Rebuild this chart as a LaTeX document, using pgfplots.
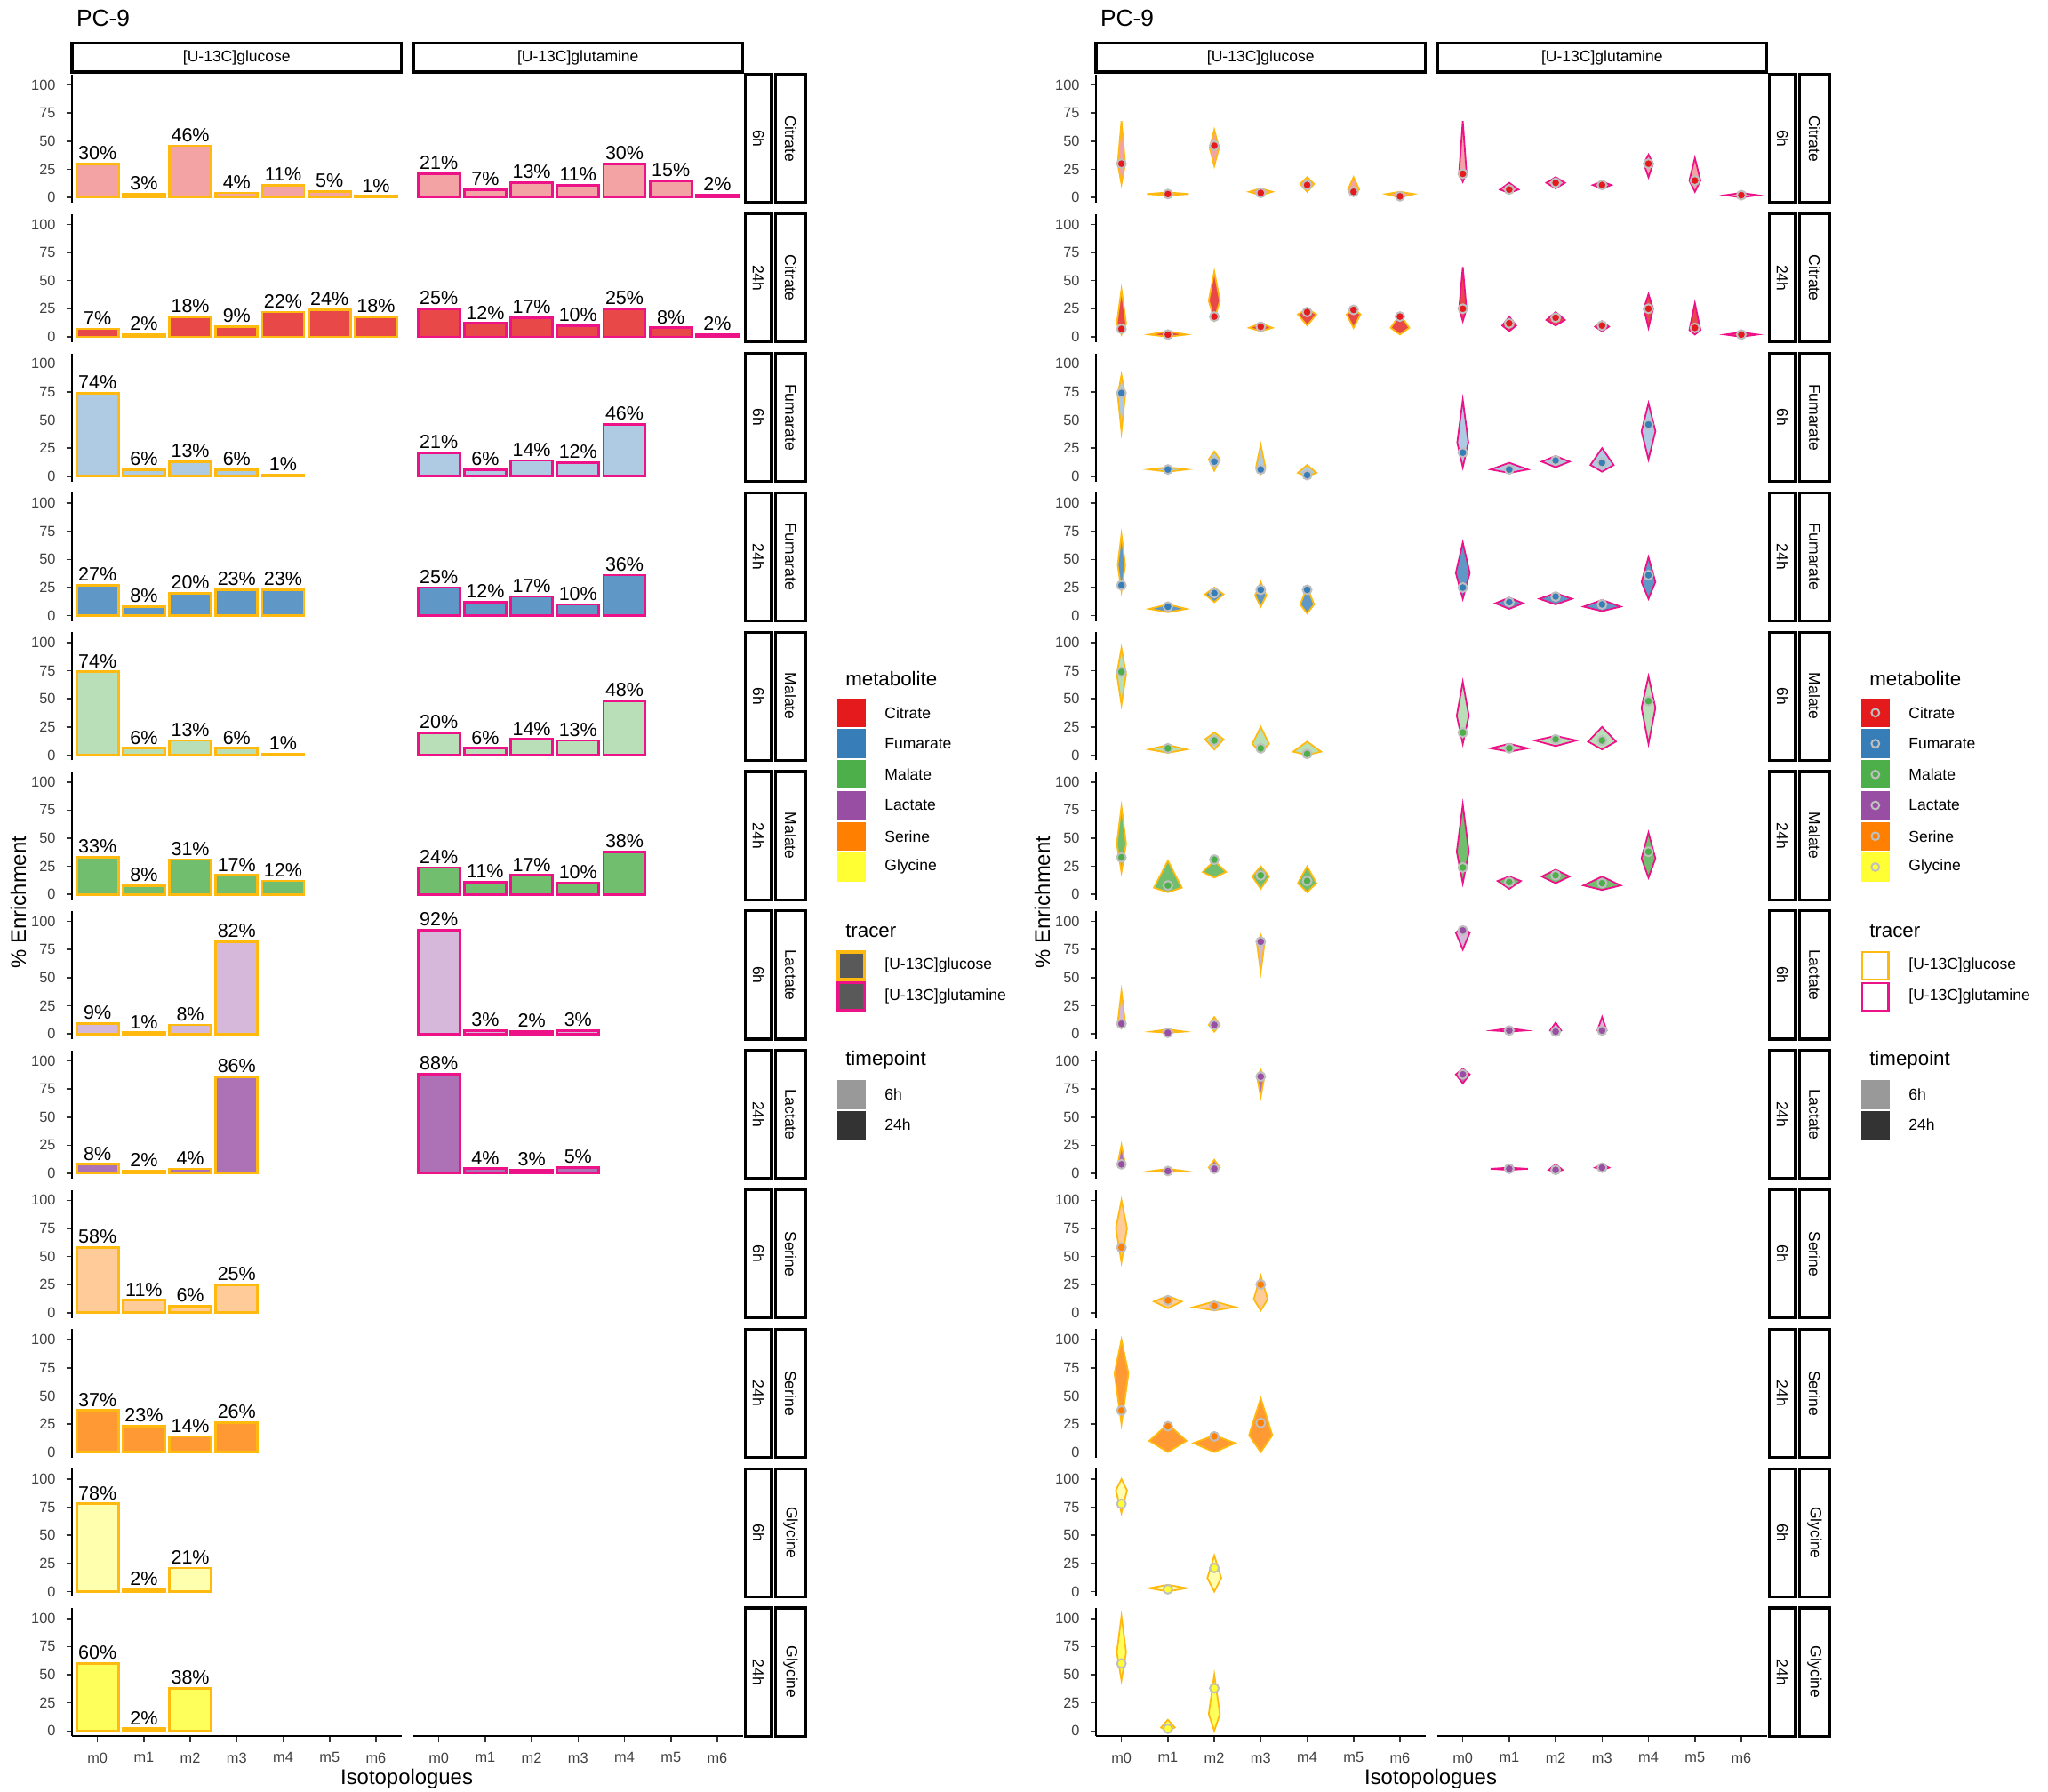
\documentclass[border=0pt]{standalone}
\usepackage{pgfplots}
\pgfplotsset{compat=1.18}
\usepackage{fontspec}
\setmainfont{Liberation Sans}
\definecolor{cCit}{HTML}{E41A1C}
\definecolor{cFum}{HTML}{377EB8}
\definecolor{cMal}{HTML}{4DAF4A}
\definecolor{cLac}{HTML}{984EA3}
\definecolor{cSer}{HTML}{FF7F00}
\definecolor{cGly}{HTML}{FFFF33}
\definecolor{cGlc}{HTML}{FFB90F}
\definecolor{cGln}{HTML}{EE1289}
\newcommand\lbl{\fontsize{5.4}{6}\selectfont}
\newcommand\tck{\fontsize{4.1}{5}\selectfont}
\pgfplotsset{
 pan/.style={anchor=north west, scale only axis, width=93.05pt, height=36.18pt,
   xmin=-0.55, xmax=6.55, ymin=-4.7, ymax=109.3, clip=false,
   xtick={0,...,6}, xticklabels={m0,m1,m2,m3,m4,m5,m6}, ytick={0,25,50,75,100},
   tick label style={font=\tck, text=black!75},
   /pgf/number format/assume math mode=true,
   tick align=outside, major tick length=1.6pt, tick style={black!80, line width=0.4pt},
   axis line style={line width=0.5pt},
   xticklabel style={yshift=0.5pt}, yticklabel style={xshift=0.5pt}},
 inner/.style={hide x axis, hide y axis},
 leftc/.style={hide x axis, axis y line*=left},
 botc/.style={hide y axis, axis x line*=bottom},
 corner/.style={axis x line*=bottom, axis y line*=left},
}
\newcommand\B[3]{\addplot[ybar, bar width=0.9, fill=#1, draw=#2, line width=0.7pt,
  nodes near coords={\pgfmathprintnumber{\pgfplotspointmeta}\%},
  every node near coord/.style={font=\lbl, text=black, inner sep=0.8pt}] coordinates {#3};}
\newcommand\V[7]{\pgfmathsetmacro\xa{#3+#7}\pgfmathsetmacro\xb{#3-#7}%
  \addplot[fill=#1, draw=#2, line width=0.45pt] coordinates {(#3,#4)(\xa,#5)(#3,#6)(\xb,#5)} --cycle;}
\newcommand\Pt[2]{\addplot[only marks, mark=*, mark size=1.25pt, mark options={fill=#1, draw=black!25, line width=0.5pt}] coordinates {#2};}
\newcommand\Ax[4]{\begin{axis}[pan, at={({#1*0.36923pt},{-(57+106.6*#2)*0.36923pt})}, #3] #4 \end{axis}}
\begin{document}
\begin{tikzpicture}[x=0.36923pt, y=-0.36923pt]
\useasboundingbox (0,0) rectangle (1566,1370.25);
% ================= LEFT: bars =================
\Ax{55}{0}{leftc}{\B{cCit!40}{cGlc}{(0,30)(1,3)(2,46)(3,4)(4,11)(5,5)(6,1)}}
\Ax{316}{0}{inner}{\B{cCit!40}{cGln}{(0,21)(1,7)(2,13)(3,11)(4,30)(5,15)(6,2)}}
\Ax{55}{1}{leftc}{\B{cCit!80}{cGlc}{(0,7)(1,2)(2,18)(3,9)(4,22)(5,24)(6,18)}}
\Ax{316}{1}{inner}{\B{cCit!80}{cGln}{(0,25)(1,12)(2,17)(3,10)(4,25)(5,8)(6,2)}}
\Ax{55}{2}{leftc}{\B{cFum!40}{cGlc}{(0,74)(1,6)(2,13)(3,6)(4,1)}}
\Ax{316}{2}{inner}{\B{cFum!40}{cGln}{(0,21)(1,6)(2,14)(3,12)(4,46)}}
\Ax{55}{3}{leftc}{\B{cFum!80}{cGlc}{(0,27)(1,8)(2,20)(3,23)(4,23)}}
\Ax{316}{3}{inner}{\B{cFum!80}{cGln}{(0,25)(1,12)(2,17)(3,10)(4,36)}}
\Ax{55}{4}{leftc}{\B{cMal!40}{cGlc}{(0,74)(1,6)(2,13)(3,6)(4,1)}}
\Ax{316}{4}{inner}{\B{cMal!40}{cGln}{(0,20)(1,6)(2,14)(3,13)(4,48)}}
\Ax{55}{5}{leftc}{\B{cMal!80}{cGlc}{(0,33)(1,8)(2,31)(3,17)(4,12)}}
\Ax{316}{5}{inner}{\B{cMal!80}{cGln}{(0,24)(1,11)(2,17)(3,10)(4,38)}}
\Ax{55}{6}{leftc}{\B{cLac!40}{cGlc}{(0,9)(1,1)(2,8)(3,82)}}
\Ax{316}{6}{inner}{\B{cLac!40}{cGln}{(0,92)(1,3)(2,2)(3,3)}}
\Ax{55}{7}{leftc}{\B{cLac!80}{cGlc}{(0,8)(1,2)(2,4)(3,86)}}
\Ax{316}{7}{inner}{\B{cLac!80}{cGln}{(0,88)(1,4)(2,3)(3,5)}}
\Ax{55}{8}{leftc}{\B{cSer!40}{cGlc}{(0,58)(1,11)(2,6)(3,25)}}
\Ax{55}{9}{leftc}{\B{cSer!80}{cGlc}{(0,37)(1,23)(2,14)(3,26)}}
\Ax{55}{10}{leftc}{\B{cGly!40}{cGlc}{(0,78)(1,2)(2,21)}}
\Ax{55}{11}{corner}{\B{cGly!80}{cGlc}{(0,60)(1,2)(2,38)}}
\Ax{316}{11}{botc}{\addplot[draw=none] coordinates {(0,0)};}
% ================= RIGHT: violins =================
\Ax{838}{0}{leftc}{
 \V{cCit!40}{cGlc}{0}{12}{30}{68}{0.08}\V{cCit!40}{cGlc}{1}{2}{3}{4.5}{0.45}\V{cCit!40}{cGlc}{2}{28}{44}{60}{0.1}
 \V{cCit!40}{cGlc}{3}{2}{5}{8}{0.25}\V{cCit!40}{cGlc}{4}{5}{12}{18}{0.15}\V{cCit!40}{cGlc}{5}{3}{7}{18}{0.12}\V{cCit!40}{cGlc}{6}{0}{3}{5}{0.3}
 \Pt{cCit}{(0,30)(1,3)(2,46)(3,4)(4,11)(5,5)(6,1)}}
\Ax{1099}{0}{inner}{
 \V{cCit!40}{cGln}{0}{14}{22}{68}{0.08}\V{cCit!40}{cGln}{1}{4}{7}{13}{0.2}\V{cCit!40}{cGln}{2}{8}{13}{18}{0.2}
 \V{cCit!40}{cGln}{3}{8}{11}{14}{0.2}\V{cCit!40}{cGln}{4}{18}{30}{38}{0.1}\V{cCit!40}{cGln}{5}{5}{15}{35}{0.12}\V{cCit!40}{cGln}{6}{0}{2}{4}{0.35}
 \Pt{cCit}{(0,21)(1,7)(2,13)(3,11)(4,30)(5,15)(6,2)}}
\Ax{838}{1}{leftc}{
 \V{cCit!80}{cGlc}{0}{2}{12}{42}{0.1}\V{cCit!80}{cGlc}{1}{0}{2}{5}{0.4}\V{cCit!80}{cGlc}{2}{15}{32}{58}{0.12}
 \V{cCit!80}{cGlc}{3}{5}{8}{12}{0.25}\V{cCit!80}{cGlc}{4}{10}{20}{25}{0.2}\V{cCit!80}{cGlc}{5}{8}{20}{25}{0.15}\V{cCit!80}{cGlc}{6}{2}{8}{20}{0.2}
 \Pt{cCit}{(0,7)(1,2)(2,18)(3,9)(4,22)(5,24)(6,18)}}
\Ax{1099}{1}{inner}{
 \V{cCit!80}{cGln}{0}{14}{25}{62}{0.08}\V{cCit!80}{cGln}{1}{5}{10}{18}{0.15}\V{cCit!80}{cGln}{2}{10}{15}{22}{0.2}
 \V{cCit!80}{cGln}{3}{5}{9}{14}{0.15}\V{cCit!80}{cGln}{4}{8}{25}{38}{0.1}\V{cCit!80}{cGln}{5}{2}{6}{30}{0.12}\V{cCit!80}{cGln}{6}{0}{2}{4}{0.35}
 \Pt{cCit}{(0,25)(1,12)(2,17)(3,10)(4,25)(5,8)(6,2)}}
\Ax{838}{2}{leftc}{
 \V{cFum!40}{cGlc}{0}{40}{72}{90}{0.08}\V{cFum!40}{cGlc}{1}{4}{6}{8}{0.4}\V{cFum!40}{cGlc}{2}{5}{15}{22}{0.12}
 \V{cFum!40}{cGlc}{3}{2}{8}{28}{0.1}\V{cFum!40}{cGlc}{4}{0}{3}{10}{0.2}
 \Pt{cFum}{(0,74)(1,6)(2,13)(3,6)(4,1)}}
\Ax{1099}{2}{inner}{
 \V{cFum!40}{cGln}{0}{8}{30}{68}{0.12}\V{cFum!40}{cGln}{1}{3}{6}{12}{0.4}\V{cFum!40}{cGln}{2}{8}{13}{18}{0.3}
 \V{cFum!40}{cGln}{3}{4}{10}{25}{0.25}\V{cFum!40}{cGln}{4}{15}{40}{65}{0.15}
 \Pt{cFum}{(0,21)(1,6)(2,14)(3,12)(4,46)}}
\Ax{838}{3}{leftc}{
 \V{cFum!80}{cGlc}{0}{22}{45}{72}{0.08}\V{cFum!80}{cGlc}{1}{3}{6}{10}{0.4}\V{cFum!80}{cGlc}{2}{12}{19}{25}{0.2}
 \V{cFum!80}{cGlc}{3}{8}{18}{30}{0.12}\V{cFum!80}{cGlc}{4}{2}{10}{25}{0.15}
 \Pt{cFum}{(0,27)(1,8)(2,20)(3,23)(4,23)}}
\Ax{1099}{3}{inner}{
 \V{cFum!80}{cGln}{0}{15}{38}{65}{0.15}\V{cFum!80}{cGln}{1}{6}{11}{16}{0.3}\V{cFum!80}{cGln}{2}{10}{15}{20}{0.35}
 \V{cFum!80}{cGln}{3}{4}{8}{14}{0.4}\V{cFum!80}{cGln}{4}{15}{30}{52}{0.15}
 \Pt{cFum}{(0,25)(1,12)(2,17)(3,10)(4,36)}}
\Ax{838}{4}{leftc}{
 \V{cMal!40}{cGlc}{0}{45}{72}{95}{0.1}\V{cMal!40}{cGlc}{1}{2}{5}{9}{0.4}\V{cMal!40}{cGlc}{2}{5}{14}{20}{0.2}
 \V{cMal!40}{cGlc}{3}{2}{10}{25}{0.18}\V{cMal!40}{cGlc}{4}{0}{3}{12}{0.3}
 \Pt{cMal}{(0,74)(1,6)(2,13)(3,6)(4,1)}}
\Ax{1099}{4}{inner}{
 \V{cMal!40}{cGln}{0}{10}{35}{65}{0.13}\V{cMal!40}{cGln}{1}{3}{6}{10}{0.4}\V{cMal!40}{cGln}{2}{8}{13}{17}{0.45}
 \V{cMal!40}{cGln}{3}{5}{12}{25}{0.3}\V{cMal!40}{cGln}{4}{10}{42}{70}{0.15}
 \Pt{cMal}{(0,20)(1,6)(2,14)(3,13)(4,48)}}
\Ax{838}{5}{leftc}{
 \V{cMal!80}{cGlc}{0}{20}{45}{78}{0.1}\V{cMal!80}{cGlc}{1}{2}{6}{30}{0.3}\V{cMal!80}{cGlc}{2}{15}{20}{30}{0.25}
 \V{cMal!80}{cGlc}{3}{5}{16}{25}{0.18}\V{cMal!80}{cGlc}{4}{2}{10}{25}{0.2}
 \Pt{cMal}{(0,33)(1,8)(2,31)(3,17)(4,12)}}
\Ax{1099}{5}{inner}{
 \V{cMal!80}{cGln}{0}{10}{38}{80}{0.13}\V{cMal!80}{cGln}{1}{5}{12}{16}{0.25}\V{cMal!80}{cGln}{2}{10}{16}{22}{0.3}
 \V{cMal!80}{cGln}{3}{4}{8}{16}{0.4}\V{cMal!80}{cGln}{4}{15}{32}{55}{0.15}
 \Pt{cMal}{(0,24)(1,11)(2,17)(3,10)(4,38)}}
\Ax{838}{6}{leftc}{
 \V{cLac!40}{cGlc}{0}{5}{10}{38}{0.08}\V{cLac!40}{cGlc}{1}{1}{2}{4}{0.35}\V{cLac!40}{cGlc}{2}{2}{8}{15}{0.12}
 \V{cLac!40}{cGlc}{3}{55}{80}{88}{0.08}
 \Pt{cLac}{(0,9)(1,1)(2,8)(3,82)}}
\Ax{1099}{6}{inner}{
 \V{cLac!40}{cGln}{0}{75}{90}{95}{0.15}\V{cLac!40}{cGln}{1}{2}{3}{5}{0.35}\V{cLac!40}{cGln}{2}{0}{3}{10}{0.12}
 \V{cLac!40}{cGln}{3}{0}{3}{15}{0.1}
 \Pt{cLac}{(0,92)(1,3)(2,2)(3,3)}}
\Ax{838}{7}{leftc}{
 \V{cLac!80}{cGlc}{0}{5}{8}{25}{0.08}\V{cLac!80}{cGlc}{1}{1}{2}{4}{0.35}\V{cLac!80}{cGlc}{2}{2}{5}{12}{0.12}
 \V{cLac!80}{cGlc}{3}{68}{86}{92}{0.08}
 \Pt{cLac}{(0,8)(1,2)(2,4)(3,86)}}
\Ax{1099}{7}{inner}{
 \V{cLac!80}{cGln}{0}{80}{88}{93}{0.15}\V{cLac!80}{cGln}{1}{3}{4}{5}{0.4}\V{cLac!80}{cGln}{2}{1}{3}{8}{0.15}
 \V{cLac!80}{cGln}{3}{3}{5}{8}{0.15}
 \Pt{cLac}{(0,88)(1,4)(2,3)(3,5)}}
\Ax{838}{8}{leftc}{
 \V{cSer!40}{cGlc}{0}{45}{75}{100}{0.12}\V{cSer!40}{cGlc}{1}{4}{10}{15}{0.3}\V{cSer!40}{cGlc}{2}{2}{5}{10}{0.45}
 \V{cSer!40}{cGlc}{3}{2}{12}{33}{0.15}
 \Pt{cSer}{(0,58)(1,11)(2,6)(3,25)}}
\Ax{838}{9}{leftc}{
 \V{cSer!80}{cGlc}{0}{25}{70}{100}{0.15}\V{cSer!80}{cGlc}{1}{0}{10}{25}{0.4}\V{cSer!80}{cGlc}{2}{0}{8}{15}{0.45}
 \V{cSer!80}{cGlc}{3}{0}{15}{48}{0.25}
 \Pt{cSer}{(0,37)(1,23)(2,14)(3,26)}}
\Ax{838}{10}{leftc}{
 \V{cGly!40}{cGlc}{0}{70}{90}{100}{0.12}\V{cGly!40}{cGlc}{1}{0}{3}{6}{0.4}\V{cGly!40}{cGlc}{2}{0}{12}{32}{0.15}
 \Pt{cGly}{(0,78)(1,2)(2,21)}}
\Ax{838}{11}{corner}{
 \V{cGly!80}{cGlc}{0}{45}{70}{102}{0.1}\V{cGly!80}{cGlc}{1}{0}{3}{10}{0.15}\V{cGly!80}{cGlc}{2}{0}{15}{50}{0.12}
 \Pt{cGly}{(0,60)(1,2)(2,38)}}
\Ax{1099}{11}{botc}{\addplot[draw=none] coordinates {(0,0)};}
% ================= strips, titles, legends =================
\foreach \dx in {0,783}{
 \begin{scope}[xshift=\dx*0.36923pt]
 \node[font=\fontsize{6.6}{7}\selectfont, anchor=west] at (49,14) {PC-9};
 \draw[line width=0.8pt, fill=white] (55,33) rectangle (307,55);
 \node[font=\fontsize{4.4}{5}\selectfont] at (181,44) {[U-13C]glucose};
 \draw[line width=0.8pt, fill=white] (316,33) rectangle (568,55);
 \node[font=\fontsize{4.4}{5}\selectfont] at (442,44) {[U-13C]glutamine};
 \foreach \i/\t/\m in {0/6h/Citrate,1/24h/Citrate,2/6h/Fumarate,3/24h/Fumarate,4/6h/Malate,5/24h/Malate,6/6h/Lactate,7/24h/Lactate,8/6h/Serine,9/24h/Serine,10/6h/Glycine,11/24h/Glycine}{
   \pgfmathsetmacro\yt{57+106.6*\i}
   \draw[line width=0.8pt, fill=white] (570,\yt) rectangle (590,\yt+98);
   \draw[line width=0.8pt, fill=white] (593,\yt) rectangle (616,\yt+98);
   \node[font=\fontsize{4.4}{5}\selectfont, rotate=-90] at (580,\yt+49) {\t};
   \node[font=\fontsize{4.4}{5}\selectfont, rotate=-90] at (604.5,\yt+49) {\m};
 }
 \node[font=\fontsize{6}{7}\selectfont] at (311,1360) {Isotopologues};
 \node[font=\fontsize{6}{7}\selectfont, rotate=90] at (14,690) {\% Enrichment};
 \node[font=\fontsize{5.6}{7}\selectfont, anchor=west] at (637,519) {metabolite};
 \foreach \k/\c/\n in {0/cCit/Citrate,1/cFum/Fumarate,2/cMal/Malate,3/cLac/Lactate,4/cSer/Serine,5/cGly/Glycine}{
   \fill[\c] (640,534+23.6*\k) rectangle (662,556+23.6*\k);
   \ifnum\dx>0 \draw[black!25, fill=\c, line width=0.5pt] (651,545+23.6*\k) circle (1.1pt);\fi
   \node[font=\fontsize{4.4}{5}\selectfont, anchor=west] at (667,545+23.6*\k) {\n};
 }
 \node[font=\fontsize{5.6}{7}\selectfont, anchor=west] at (637,712) {tracer};
 \foreach \k/\c/\n in {0/cGlc/{[U-13C]glucose},1/cGln/{[U-13C]glutamine}}{
   \ifnum\dx>0 \draw[\c, line width=0.6pt, fill=white] (641,728+23.6*\k) rectangle (661,749+23.6*\k);
   \else \draw[\c, line width=0.8pt, fill=black!65] (641,728+23.6*\k) rectangle (661,749+23.6*\k);\fi
   \node[font=\fontsize{4.4}{5}\selectfont, anchor=west] at (667,738+23.6*\k) {\n};
 }
 \node[font=\fontsize{5.6}{7}\selectfont, anchor=west] at (637,811) {timepoint};
 \fill[black!40] (640,826) rectangle (662,848);
 \node[font=\fontsize{4.4}{5}\selectfont, anchor=west] at (667,837) {6h};
 \fill[black!80] (640,849.6) rectangle (662,871.6);
 \node[font=\fontsize{4.4}{5}\selectfont, anchor=west] at (667,860) {24h};
 \end{scope}
}
\end{tikzpicture}
\end{document}
